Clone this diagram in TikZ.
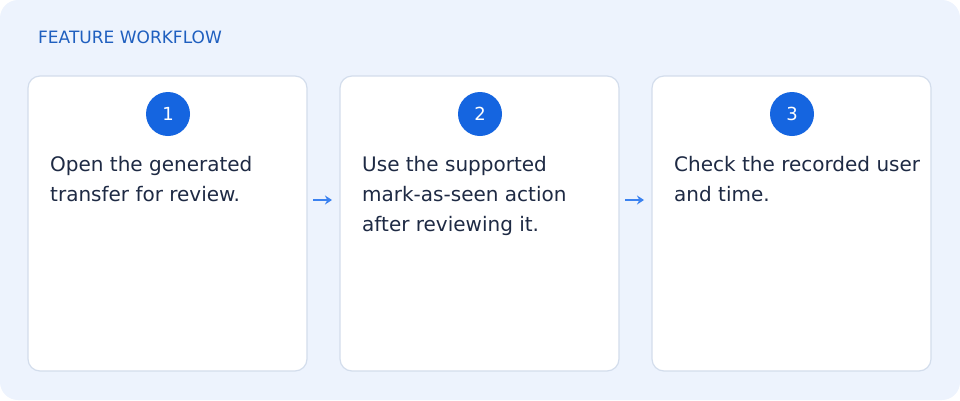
\documentclass[tikz,border=0pt]{standalone}
\usepackage{fontspec}
\setmainfont{DejaVu Sans}
\usetikzlibrary{arrows.meta}
\begin{document}
\definecolor{bg}{HTML}{EDF3FD}
\definecolor{bd}{HTML}{D3DDEC}
\definecolor{ttl}{HTML}{1F5FBF}
\definecolor{circ}{HTML}{1565E0}
\definecolor{txt}{HTML}{1E2A44}
\definecolor{arr}{HTML}{3B82F0}
\begin{tikzpicture}[x=1pt,y=-1pt,
 card/.style={draw=bd,line width=1.2pt,fill=white,rounded corners=12pt},
 num/.style={circle,fill=circ,minimum size=44pt,inner sep=0pt,text=white,font=\fontsize{18}{18}\selectfont},
 body/.style={anchor=north west,align=left,text=txt,font=\fontsize{20}{30}\selectfont,inner sep=0pt},
 arrow/.style={draw=arr,line width=1.6pt,-{Stealth[length=7pt,width=9pt]}}]
\useasboundingbox (0,0) rectangle (960,400);
\fill[bg,rounded corners=18pt] (0,0) rectangle (960,400);
\node[anchor=base west,text=ttl,font=\fontsize{17}{17}\selectfont,inner sep=0pt] (title) at (38,43) {FEATURE WORKFLOW};
\foreach \i/\x in {1/28,2/340,3/652}{
  \draw[card] (\x,76) rectangle ++(279,295);
  \node[num] (n\i) at (\x+140,114) {\i};
}
\node[body] (t1) at (50,156) {Open the generated\\transfer for review.};
\node[body] (t2) at (362,156) {Use the supported\\mark-as-seen action\\after reviewing it.};
\node[body] (t3) at (674,156) {Check the recorded user\\and time.};
\coordinate (a1s) at (313,200); \coordinate (a1e) at (332,200);
\coordinate (a2s) at (625,200); \coordinate (a2e) at (644,200);
\draw[arrow] (a1s) -- (a1e);
\draw[arrow] (a2s) -- (a2e);
\end{tikzpicture}
\end{document}
